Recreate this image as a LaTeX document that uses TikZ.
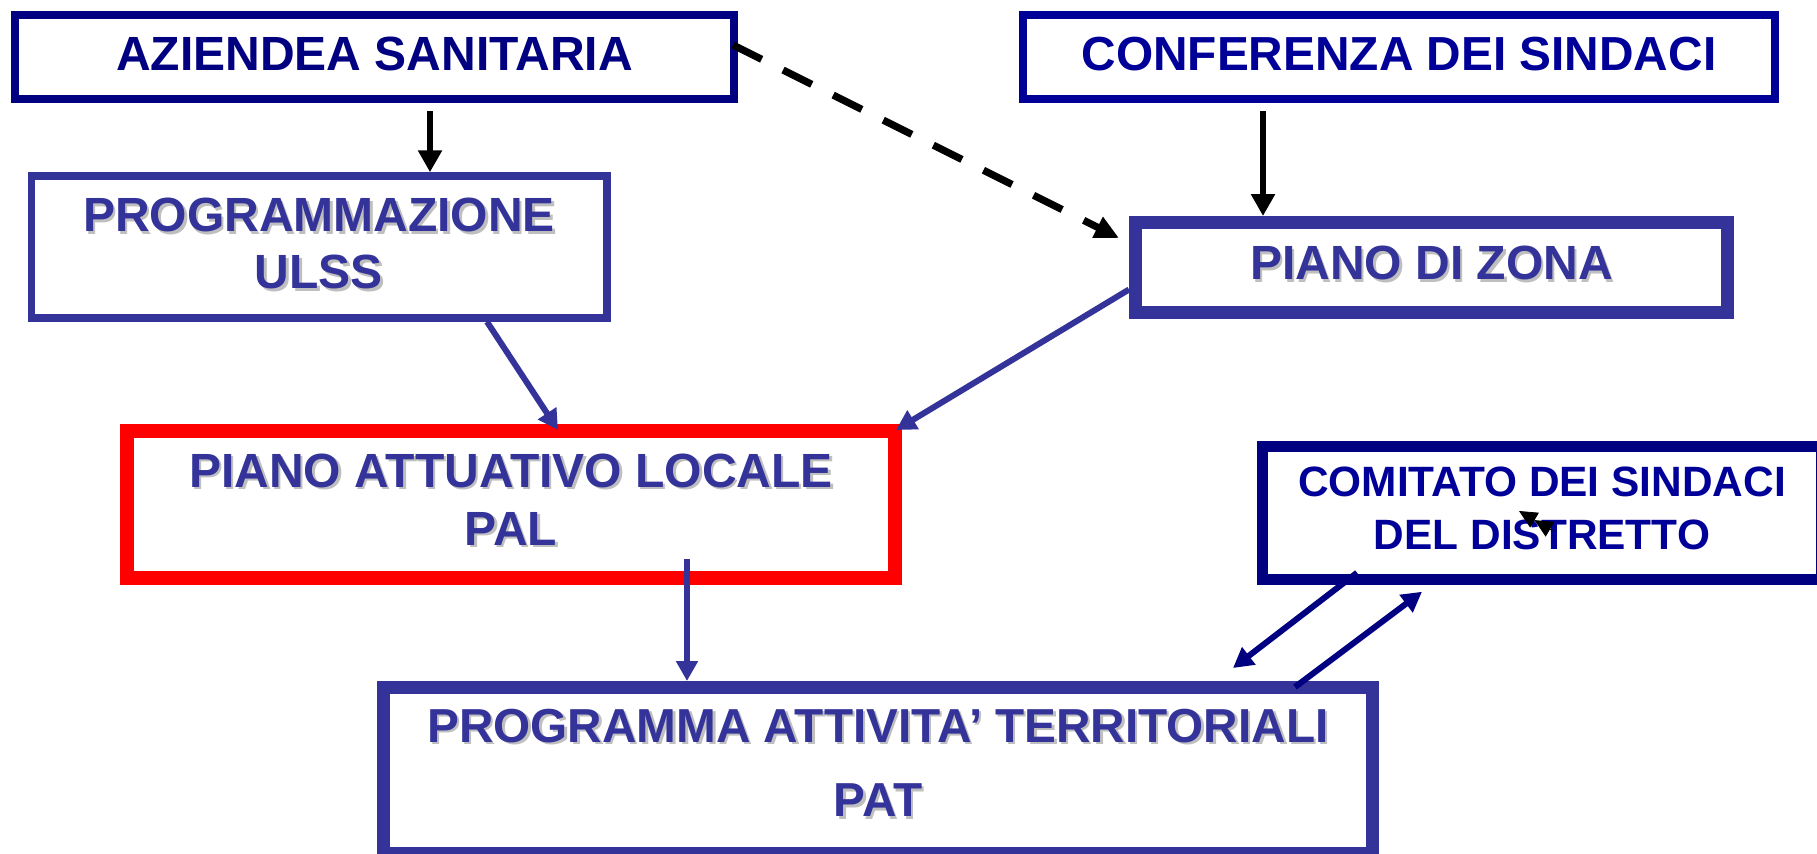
\documentclass[tikz,border=0pt]{standalone}
\usepackage{fontspec}
\setmainfont{Liberation Sans}
\usetikzlibrary{arrows.meta}
\definecolor{navyA}{RGB}{0,0,128}
\definecolor{navyB}{RGB}{0,0,153}
\definecolor{blueP}{RGB}{51,51,153}
\definecolor{redP}{RGB}{255,0,0}
\newcommand\shd[1]{\leavevmode\rlap{\kern1.2pt\raisebox{-1.2pt}{\textcolor{black!25}{#1}}}#1}
\begin{document}
\begin{tikzpicture}[x=0.5pt,y=-0.5pt,
  box/.style={draw, rectangle, inner sep=0pt, align=center},
  navybox/.style={box, draw=navyA, text=navyA},
  bluebox/.style={box, draw=blueP, text=blueP},
  bigtxt/.style={font=\fontsize{24pt}{#1}\selectfont\bfseries},
  tipA/.style={-{Triangle[length=11pt,width=11.5pt]}},
  blk/.style={tipA, draw=black, line width=3pt},
  bl/.style={-{Triangle[length=10pt,width=10.5pt]}, draw=blueP, line width=3pt},
  nv/.style={-{Triangle[length=10pt,width=10.5pt]}, draw=navyA, line width=3pt}
]
\useasboundingbox (0,0) rectangle (1817,853);
\fill[white] (0,0) rectangle (1817,853);
\clip (0,0) rectangle (1817,853);

\node[navybox, line width=4pt, minimum width=359.5pt, minimum height=42pt,
  text depth=3.5pt, font=\fontsize{24pt}{28pt}\selectfont\bfseries]
  (AZ) at (374.5,57) {AZIENDEA SANITARIA};
\node[box, draw=navyB, text=navyB, line width=4pt, minimum width=376pt, minimum height=42pt,
  text depth=3.5pt, font=\fontsize{23.9pt}{28pt}\selectfont\bfseries]
  (CONF) at (1399,57) {CONFERENZA DEI SINDACI};
\node[bluebox, line width=3.75pt, minimum width=287.75pt, minimum height=71pt,
  text depth=3.5pt, bigtxt=28.5pt]
  (ULSS) at (319,247) {\shd{PROGRAMMAZIONE}\\\shd{ULSS}};
\node[bluebox, line width=6.5pt, minimum width=296pt, minimum height=45pt,
  text depth=4.5pt, bigtxt=28pt]
  (PZ) at (1431.5,267.5) {\shd{PIANO DI ZONA}};
\node[box, draw=redP, text=blueP, line width=7pt, minimum width=384pt, minimum height=73.5pt,
  text depth=5pt, bigtxt=29pt]
  (PAL) at (511,504.5) {\shd{PIANO ATTUATIVO LOCALE}\\\shd{PAL}};
\node[navybox, text=navyB, line width=5.5pt, minimum width=279.5pt, minimum height=66.25pt,
  text depth=5pt, font=\fontsize{21.2pt}{26.25pt}\selectfont\bfseries]
  (COM) at (1542,513) {COMITATO DEI SINDACI\\DEL DISTRETTO};
\node[bluebox, line width=6.5pt, minimum width=494.75pt, minimum height=83pt,
  text depth=7.5pt, font=\fontsize{23.85pt}{37.25pt}\selectfont\bfseries]
  (PAT) at (878,770.5) {\shd{PROGRAMMA ATTIVITA’ TERRITORIALI}\\\shd{PAT}};

\draw[blk] ([shift={(55.5,8)}]AZ.south) -- ([shift={(111,0)}]ULSS.north);
\draw[blk] ([shift={(-136,8)}]CONF.south) -- ([shift={(-168.5,0)}]PZ.north);
\draw[-{Triangle[length=12pt,width=11pt]}, draw=black, line width=3.6pt, dash pattern=on 16pt off 12pt]
  ([shift={(-5,-12)}]AZ.east) -- ([shift={(-10,-29.5)}]PZ.west);
\draw[bl] ([shift={(168,0)}]ULSS.south) -- ([shift={(47,6)}]PAL.north);
\draw[bl] ([shift={(0,22)}]PZ.west) -- ([shift={(-6,6)}]PAL.north east);
\draw[bl] ([shift={(176,-26)}]PAL.south) -- ([shift={(-191,0)}]PAT.north);
\draw[nv] ([shift={(-185,-12)}]COM.south) -- ([shift={(355,-13)}]PAT.north);
\draw[nv] ([shift={(417,6)}]PAT.north) -- ([shift={(-120,7)}]COM.south);

\coordinate (dA) at (1553,531);
\coordinate (dB) at (1519,511);
\draw[black, line width=0.4pt, -{Triangle[length=9pt,width=8.5pt]Triangle[length=9pt,width=8.5pt]}] (dA) -- (dB);
\end{tikzpicture}
\end{document}
